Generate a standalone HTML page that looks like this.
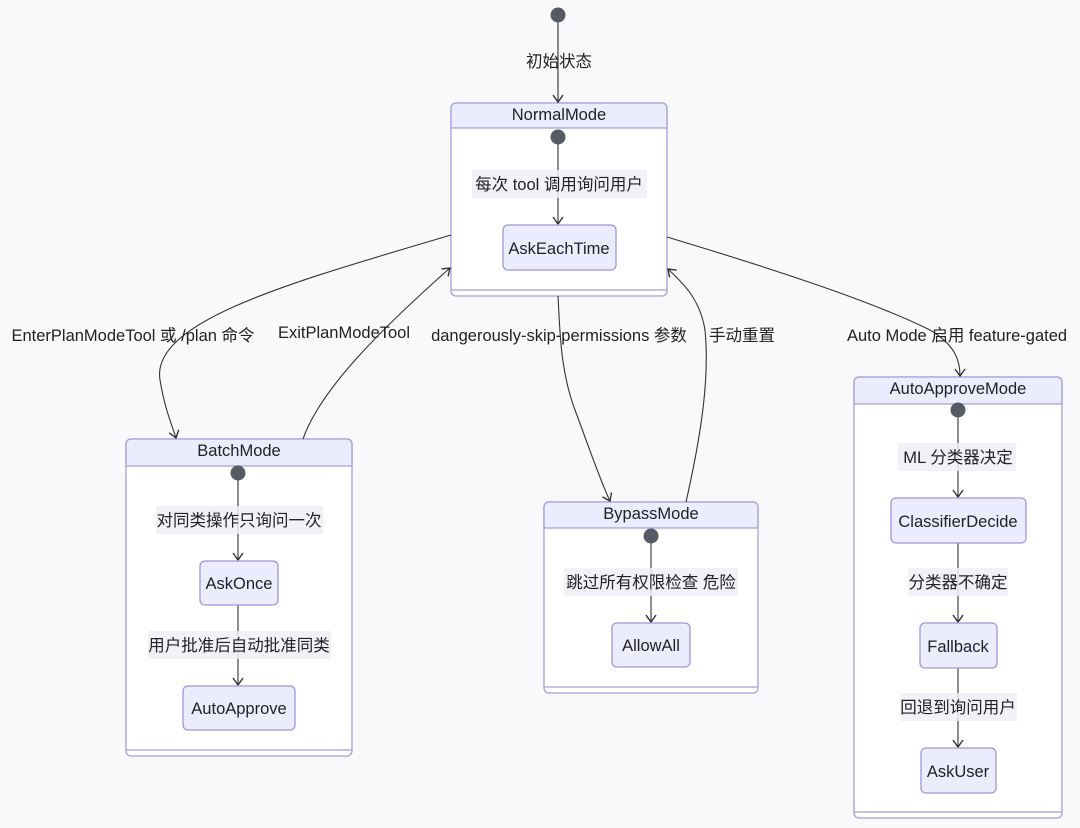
<!DOCTYPE html>
<html><head><meta charset="utf-8"><style>
html,body{margin:0;padding:0;background:#f9f9fb;}
svg{display:block;font-family:"Liberation Sans","Noto Sans CJK SC",sans-serif;}
text{font-size:16.5px;fill:#222;}
.c{fill:#fff;stroke:#a99ddc;stroke-width:1.3;}
.h{fill:#ececff;stroke:#a99ddc;stroke-width:1.3;}
.n{fill:#ececff;stroke:#a594dc;stroke-width:1.3;}
.e{fill:none;stroke:#333;stroke-width:1.1;}
.lb{fill:#eeeef6;opacity:.85;}
</style></head><body>
<svg width="1080" height="828" viewBox="0 0 1080 828">
<defs><marker id="a" markerWidth="12" markerHeight="12" refX="10" refY="6" orient="auto" markerUnits="userSpaceOnUse" viewBox="0 0 12 12"><path d="M3,1 L10,6 L3,11" fill="none" stroke="#333" stroke-width="1.4"/></marker></defs>
<g>
<rect class="c" x="451" y="103" width="216" height="193" rx="5"/>
<path class="h" d="M451,128 V108 a5,5 0 0 1 5,-5 H662 a5,5 0 0 1 5,5 V128 Z"/>
<line x1="451" y1="290" x2="667" y2="290" stroke="#a99ddc" stroke-width="1.3"/>
<text x="559" y="120" text-anchor="middle">NormalMode</text>
</g>
<g>
<rect class="c" x="126" y="439" width="226" height="317" rx="5"/>
<path class="h" d="M126,466 V444 a5,5 0 0 1 5,-5 H347 a5,5 0 0 1 5,5 V466 Z"/>
<line x1="126" y1="750" x2="352" y2="750" stroke="#a99ddc" stroke-width="1.3"/>
<text x="239" y="456" text-anchor="middle">BatchMode</text>
</g>
<g>
<rect class="c" x="544" y="502" width="214" height="191" rx="5"/>
<path class="h" d="M544,528 V507 a5,5 0 0 1 5,-5 H753 a5,5 0 0 1 5,5 V528 Z"/>
<line x1="544" y1="687" x2="758" y2="687" stroke="#a99ddc" stroke-width="1.3"/>
<text x="651" y="519" text-anchor="middle">BypassMode</text>
</g>
<g>
<rect class="c" x="854" y="377" width="208" height="441" rx="5"/>
<path class="h" d="M854,404 V382 a5,5 0 0 1 5,-5 H1057 a5,5 0 0 1 5,5 V404 Z"/>
<line x1="854" y1="812" x2="1062" y2="812" stroke="#a99ddc" stroke-width="1.3"/>
<text x="958" y="394" text-anchor="middle">AutoApproveMode</text>
</g>
<g fill="#555a63">
<circle cx="558" cy="15" r="7.5"/><circle cx="558" cy="137" r="7.5"/><circle cx="238" cy="473" r="7.5"/><circle cx="651" cy="536" r="7.5"/><circle cx="958" cy="410" r="7.5"/>
</g>
<path class="e" d="M558,22 V102" marker-end="url(#a)"/>
<path class="e" d="M558,144 V224" marker-end="url(#a)"/>
<path class="e" d="M238,480 V560" marker-end="url(#a)"/>
<path class="e" d="M238,605 V685" marker-end="url(#a)"/>
<path class="e" d="M651,543 V622" marker-end="url(#a)"/>
<path class="e" d="M958,417 V497" marker-end="url(#a)"/>
<path class="e" d="M958,543 V622" marker-end="url(#a)"/>
<path class="e" d="M958,668 V747" marker-end="url(#a)"/>
<path class="e" d="M451,235 C300,280 150,320 160,380 C165,410 172,425 176,438" marker-end="url(#a)"/>
<path class="e" d="M303,439 C320,390 380,330 450,268" marker-end="url(#a)"/>
<path class="e" d="M558,296 C560,330 560,370 575,410 C590,450 600,480 610,501" marker-end="url(#a)"/>
<path class="e" d="M686,502 C700,440 710,380 705,330 C700,300 685,285 668,269" marker-end="url(#a)"/>
<path class="e" d="M667,237 C760,265 870,300 930,330 C955,345 960,360 960,376" marker-end="url(#a)"/>
<rect class="lb" x="472" y="170" width="175" height="28"/>
<rect class="lb" x="156" y="506" width="167" height="28"/>
<rect class="lb" x="148" y="631" width="183" height="28"/>
<rect class="lb" x="564" y="568" width="174" height="28"/>
<rect class="lb" x="898" y="443" width="118" height="28"/>
<rect class="lb" x="908" y="568" width="100" height="28"/>
<rect class="lb" x="900" y="693" width="117" height="28"/>
<g text-anchor="middle">
<text x="559" y="67">初始状态</text>
<text x="559" y="190">每次 tool 调用询问用户</text>
<text x="239" y="526">对同类操作只询问一次</text>
<text x="239" y="651">用户批准后自动批准同类</text>
<text x="651" y="588">跳过所有权限检查 危险</text>
<text x="958" y="463">ML 分类器决定</text>
<text x="958" y="588">分类器不确定</text>
<text x="958" y="713">回退到询问用户</text>
<text x="133" y="341">EnterPlanModeTool 或 /plan 命令</text>
<text x="344" y="338">ExitPlanModeTool</text>
<text x="559" y="341">dangerously-skip-permissions 参数</text>
<text x="742" y="341">手动重置</text>
<text x="957" y="341">Auto Mode 启用 feature-gated</text>
</g>
<rect class="n" x="503" y="225" width="113" height="45" rx="5"/>
<rect class="n" x="200" y="561" width="78" height="44" rx="5"/>
<rect class="n" x="183" y="686" width="112" height="44" rx="5"/>
<rect class="n" x="612" y="623" width="78" height="44" rx="5"/>
<rect class="n" x="891" y="498" width="135" height="45" rx="5"/>
<rect class="n" x="920" y="623" width="77" height="45" rx="5"/>
<rect class="n" x="921" y="748" width="75" height="45" rx="5"/>
<g text-anchor="middle">
<text x="559" y="254">AskEachTime</text>
<text x="239" y="589">AskOnce</text>
<text x="239" y="714">AutoApprove</text>
<text x="651" y="651">AllowAll</text>
<text x="958" y="527">ClassifierDecide</text>
<text x="958" y="652">Fallback</text>
<text x="958" y="777">AskUser</text>
</g>
</svg>
</body></html>
